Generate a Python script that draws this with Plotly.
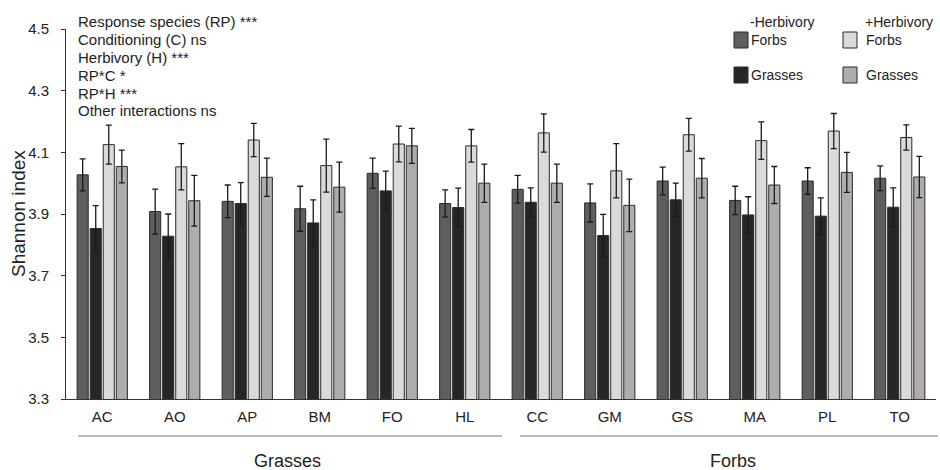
import plotly.graph_objects as go

species = ["AC", "AO", "AP", "BM", "FO", "HL", "CC", "GM", "GS", "MA", "PL", "TO"]

forbs_minus = [4.027, 3.908, 3.941, 3.917, 4.032, 3.934, 3.980, 3.936, 4.007, 3.944, 4.007, 4.016]
forbs_minus_err = [0.052, 0.073, 0.053, 0.073, 0.049, 0.044, 0.045, 0.062, 0.045, 0.046, 0.043, 0.040]
grasses_minus = [3.853, 3.828, 3.934, 3.871, 3.975, 3.921, 3.938, 3.830, 3.946, 3.897, 3.893, 3.922]
grasses_minus_err = [0.074, 0.072, 0.068, 0.075, 0.064, 0.063, 0.047, 0.069, 0.054, 0.059, 0.059, 0.063]
forbs_plus = [4.125, 4.053, 4.140, 4.057, 4.127, 4.121, 4.163, 4.040, 4.157, 4.138, 4.169, 4.148]
forbs_plus_err = [0.063, 0.075, 0.054, 0.086, 0.058, 0.053, 0.062, 0.088, 0.053, 0.061, 0.057, 0.041]
grasses_plus = [4.054, 3.943, 4.019, 3.987, 4.121, 4.000, 4.000, 3.928, 4.016, 3.994, 4.035, 4.020]
grasses_plus_err = [0.053, 0.082, 0.062, 0.081, 0.057, 0.062, 0.062, 0.085, 0.064, 0.060, 0.065, 0.067]

stats_lines = ["Response species (RP) ***", "Conditioning (C) ns", "Herbivory (H) ***",
               "RP*C *", "RP*H ***", "Other interactions ns"]

FONT = "Liberation Sans, Arial, sans-serif"
colors = ["#5e5e5e", "#262626", "#dadada", "#b0acac"]
series = [
    ("-Herbivory Forbs", forbs_minus, forbs_minus_err),
    ("-Herbivory Grasses", grasses_minus, grasses_minus_err),
    ("+Herbivory Forbs", forbs_plus, forbs_plus_err),
    ("+Herbivory Grasses", grasses_plus, grasses_plus_err),
]

fig = go.Figure()
for (name, vals, errs), c in zip(series, colors):
    fig.add_trace(go.Bar(
        x=species, y=vals, name=name,
        marker=dict(color=c, line=dict(color="#2a2a2a", width=1)),
        error_y=dict(type="data", array=errs, visible=True, color="#1a1a1a",
                     thickness=1.3, width=3),
        showlegend=False,
    ))

W, H = 940, 470
L, R, T, B = 66, 4, 29, 71
pw, ph = W - L - R, H - T - B

def px(x):
    return (x - L) / pw

def py(y):
    return (H - B - y) / ph

annotations = []
shapes = []
for i, s in enumerate(stats_lines):
    annotations.append(dict(x=px(76), y=py(22 + i * 17.8), xref="paper", yref="paper",
                            text=s, showarrow=False, xanchor="left", yanchor="middle",
                            font=dict(family=FONT, size=15, color="#222")))

# y axis title
annotations.append(dict(x=px(18), y=py(214), xref="paper", yref="paper", text="Shannon index",
                        showarrow=False, textangle=-90, xanchor="center", yanchor="middle",
                        font=dict(family=FONT, size=19, color="#222")))

# custom legend
annotations.append(dict(x=px(748), y=py(22), xref="paper", yref="paper", text="-Herbivory",
                        showarrow=False, xanchor="left", yanchor="middle",
                        font=dict(family=FONT, size=14, color="#222")))
annotations.append(dict(x=px(863), y=py(22), xref="paper", yref="paper", text="+Herbivory",
                        showarrow=False, xanchor="left", yanchor="middle",
                        font=dict(family=FONT, size=14, color="#222")))
leg = [(734, 40, colors[0], "Forbs", 749), (734, 75, colors[1], "Grasses", 749),
       (843, 40, colors[2], "Forbs", 864), (843, 75, colors[3], "Grasses", 864)]
for bx, by, c, t, tx in leg:
    shapes.append(dict(type="rect", xref="paper", yref="paper",
                       x0=px(bx), x1=px(bx + 14), y0=py(by - 8), y1=py(by + 8),
                       fillcolor=c, line=dict(color="#2a2a2a", width=1)))
    annotations.append(dict(x=px(tx), y=py(by), xref="paper", yref="paper", text=t,
                            showarrow=False, xanchor="left", yanchor="middle",
                            font=dict(family=FONT, size=14, color="#222")))

# group lines and labels
shapes.append(dict(type="line", xref="paper", yref="paper", x0=px(78), x1=px(502),
                   y0=py(436), y1=py(436), line=dict(color="#7a7a7a", width=1)))
shapes.append(dict(type="line", xref="paper", yref="paper", x0=px(520), x1=px(938),
                   y0=py(436), y1=py(436), line=dict(color="#7a7a7a", width=1)))
annotations.append(dict(x=px(287), y=py(461), xref="paper", yref="paper", text="Grasses",
                        showarrow=False, xanchor="center", yanchor="middle",
                        font=dict(family=FONT, size=18, color="#222")))
annotations.append(dict(x=px(733), y=py(461), xref="paper", yref="paper", text="Forbs",
                        showarrow=False, xanchor="center", yanchor="middle",
                        font=dict(family=FONT, size=18, color="#222")))

fig.update_layout(
    width=W, height=H,
    margin=dict(l=L, r=R, t=T, b=B),
    paper_bgcolor="white", plot_bgcolor="white",
    barmode="group", bargap=0.28, bargroupgap=0.15,
    font=dict(family=FONT, size=14, color="#222"),
    annotations=annotations, shapes=shapes,
    xaxis=dict(showline=True, linecolor="#333", linewidth=1, ticks="",
               tickfont=dict(family=FONT, size=15, color="#222"), ticklabelstandoff=4,
               showgrid=False, zeroline=False, range=[-0.5, 11.5]),
    yaxis=dict(range=[3.3, 4.5], tick0=3.3, dtick=0.2, tickformat=".1f",
               showline=True, linecolor="#333", linewidth=1, ticks="outside",
               ticklen=4, tickcolor="#333", showgrid=False, zeroline=False,
               ticklabelstandoff=9,
               tickfont=dict(family=FONT, size=15, color="#222")),
)

fig.write_html("out.html")
